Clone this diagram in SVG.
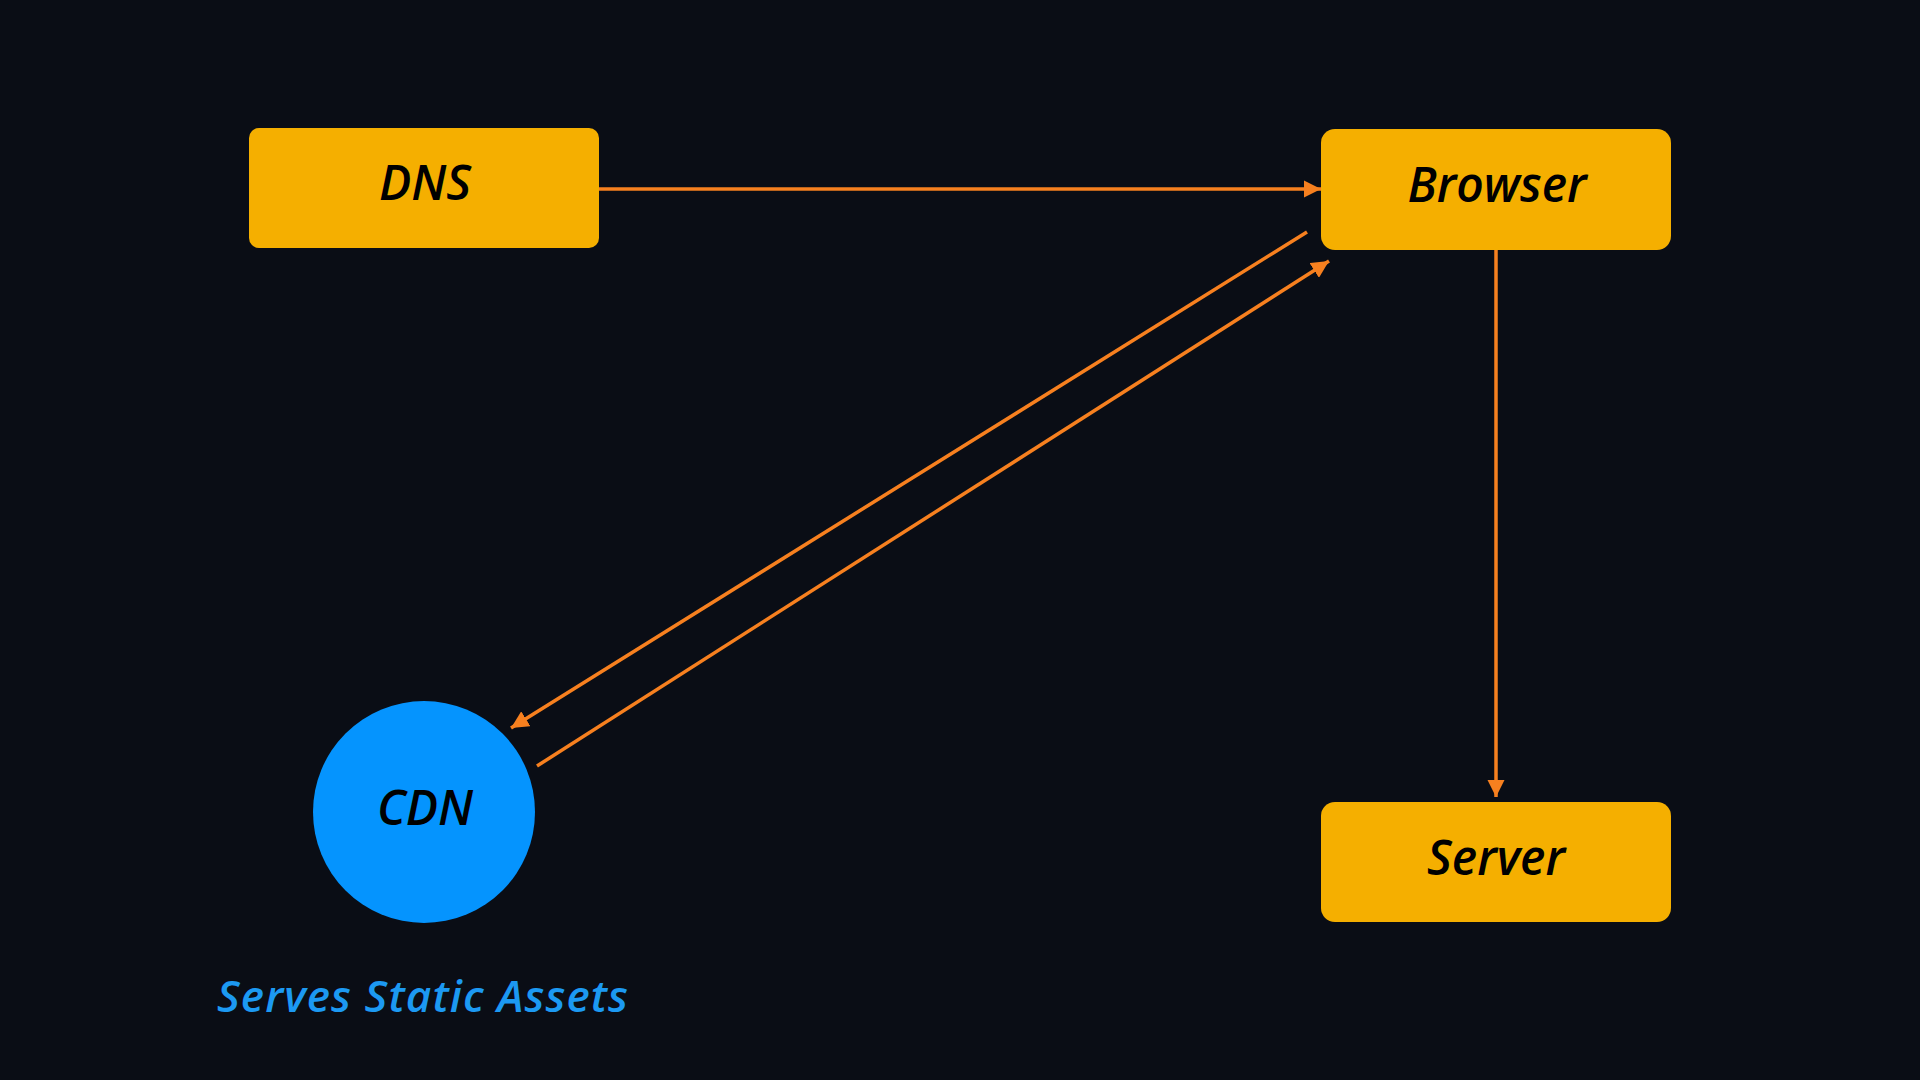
<svg xmlns="http://www.w3.org/2000/svg" width="1920" height="1080" viewBox="0 0 1920 1080">
<style>
.box{fill:#f5af00;}
.lbl{font-family:"Open Sans","Noto Sans",sans-serif;font-style:italic;font-weight:600;font-size:48px;fill:#000;text-anchor:middle;}
.con{stroke:#f7801f;stroke-width:3.5;fill:none;}
.note{font-family:"Open Sans","Noto Sans",sans-serif;font-style:italic;font-weight:600;font-size:44px;fill:#1c99f2;}
</style>
<defs>
<marker id="ah" viewBox="0 0 10 10" refX="10" refY="5" markerWidth="5" markerHeight="5" markerUnits="strokeWidth" orient="auto">
<path d="M0,0 L10,5 L0,10 Z" fill="#f7801f"/>
</marker>
</defs>
<rect width="1920" height="1080" fill="#0a0d15"/>
<g id="connectors">
<line class="con" x1="599" y1="189" x2="1321" y2="189" marker-end="url(#ah)"/>
<line class="con" x1="1496" y1="250" x2="1496" y2="797" marker-end="url(#ah)"/>
<line class="con" x1="1307" y1="232" x2="511" y2="728" marker-end="url(#ah)"/>
<line class="con" x1="537" y1="766" x2="1329" y2="261" marker-end="url(#ah)"/>
</g>
<g id="dns">
<rect class="box" x="249" y="128" width="350" height="120" rx="10"/>
<text class="lbl" x="425" y="200">DNS</text>
</g>
<g id="browser">
<rect class="box" x="1321" y="129" width="350" height="121" rx="14"/>
<text class="lbl" x="1497" y="202">Browser</text>
</g>
<g id="server">
<rect class="box" x="1321" y="802" width="350" height="120" rx="14"/>
<text class="lbl" x="1496" y="875">Server</text>
</g>
<g id="cdn">
<circle cx="424" cy="812" r="111" fill="#0594fe"/>
<text class="lbl" x="425" y="825">CDN</text>
</g>
<g id="note">
<text class="note" x="217" y="1012" textLength="411">Serves Static Assets</text>
</g>
</svg>
